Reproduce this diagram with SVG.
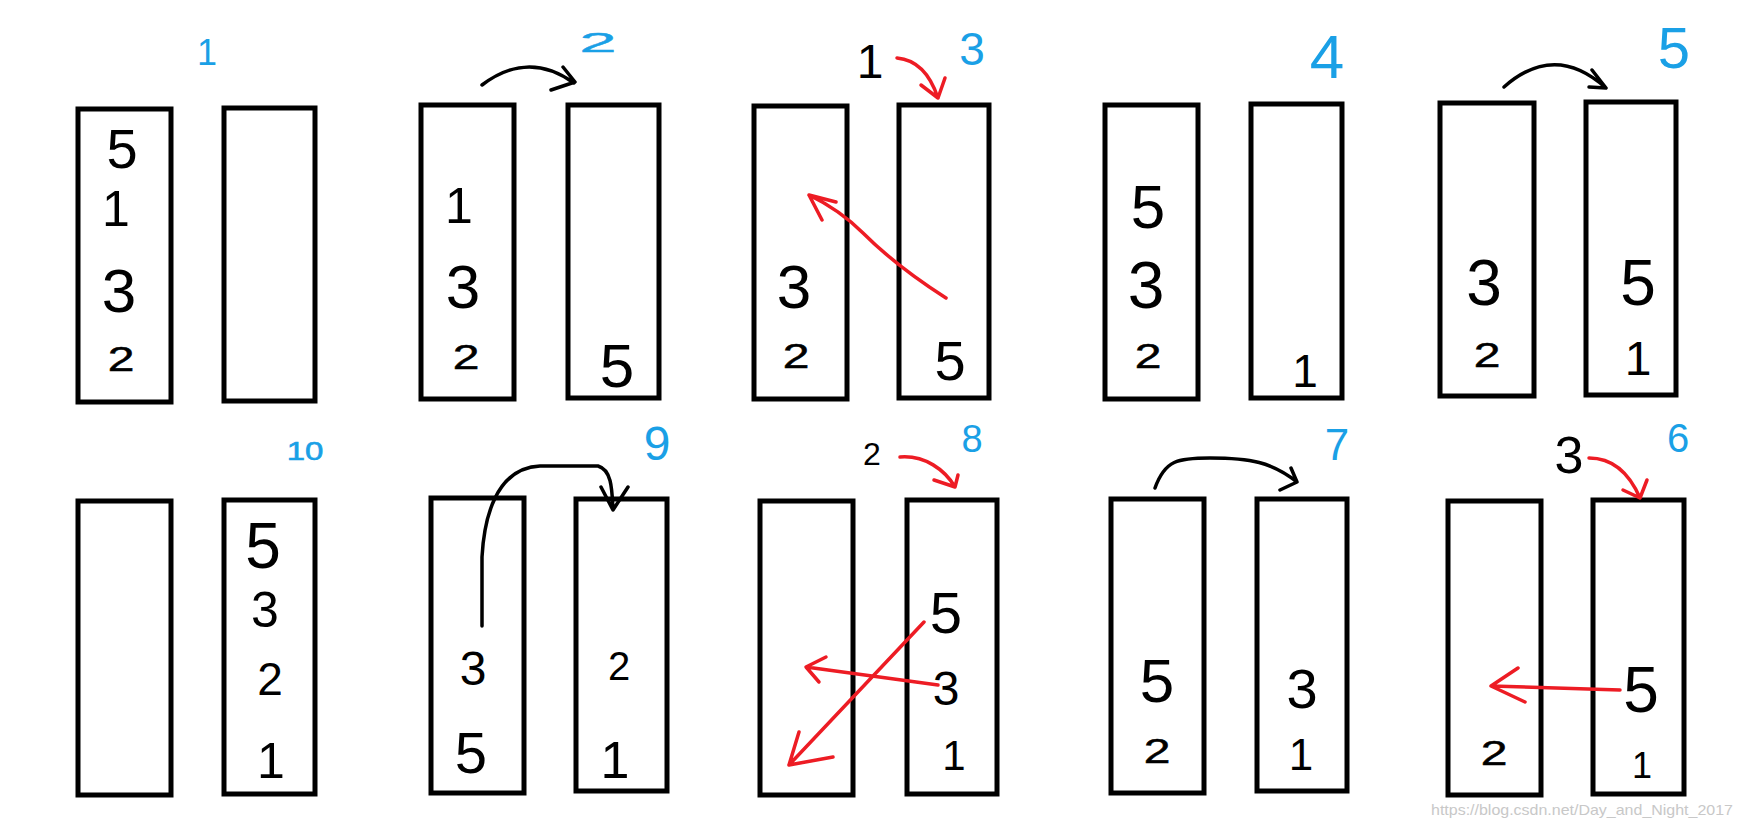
<svg xmlns="http://www.w3.org/2000/svg" width="1738" height="827" viewBox="0 0 1738 827">
<style>
.box{fill:none;stroke:#000;stroke-width:5}
text{font-family:"Liberation Sans","DejaVu Sans",sans-serif;text-anchor:middle}
.k{fill:#000}
.b{fill:#1aa0e6}
.t{font-size:48px;stroke:#000;stroke-width:0.7}
.tb{stroke:#1aa0e6;stroke-width:0.7}
.ak{fill:none;stroke:#000;stroke-width:3.5;stroke-linecap:round;stroke-linejoin:round}
.ar{fill:none;stroke:#ed1c24;stroke-width:3.5;stroke-linecap:round;stroke-linejoin:round}
.wm{fill:#c8c8c8;font-size:15px;text-anchor:start}
</style>
<rect width="1738" height="827" fill="#fff"/>
<g id="p1">
<rect class="box" x="78" y="109" width="93" height="293"/>
<rect class="box" x="224" y="108" width="91" height="293"/>
<text class="k" x="122" y="168" font-size="56">5</text>
<text class="k" x="116" y="226" font-size="50">1</text>
<text class="k" x="119" y="312" font-size="62">3</text>
<text class="k t" transform="translate(121,371) scale(1,0.72)">2</text>
<text class="b" x="207" y="65" font-size="36">1</text>
</g>
<g id="p2">
<rect class="box" x="421" y="105" width="93" height="294"/>
<rect class="box" x="568" y="105" width="91" height="293"/>
<text class="k" x="459" y="223" font-size="50">1</text>
<text class="k" x="463" y="308" font-size="62">3</text>
<text class="k t" transform="translate(466,369) scale(1,0.72)">2</text>
<text class="k" x="617" y="387" font-size="62">5</text>
<text class="b tb" font-size="56" transform="translate(598,52) scale(1.2,0.5)">2</text>
</g>
<g id="p3">
<rect class="box" x="754" y="106" width="93" height="293"/>
<rect class="box" x="899" y="105" width="90" height="293"/>
<text class="k" x="794" y="308" font-size="62">3</text>
<text class="k t" transform="translate(796,368) scale(1,0.72)">2</text>
<text class="k" x="950" y="380" font-size="56">5</text>
<text class="k" x="870" y="78" font-size="48">1</text>
<text class="b" x="972" y="65" font-size="46">3</text>
</g>
<g id="p4">
<rect class="box" x="1105" y="105" width="93" height="294"/>
<rect class="box" x="1251" y="104" width="91" height="294"/>
<text class="k" x="1148" y="228" font-size="62">5</text>
<text class="k" x="1146" y="308" font-size="66">3</text>
<text class="k t" transform="translate(1148,368) scale(1,0.72)">2</text>
<text class="k" x="1305" y="387" font-size="46">1</text>
<text class="b" x="1327" y="78" font-size="62">4</text>
</g>
<g id="p5">
<rect class="box" x="1440" y="103" width="94" height="293"/>
<rect class="box" x="1586" y="102" width="90" height="293"/>
<text class="k" x="1484" y="305" font-size="64">3</text>
<text class="k t" transform="translate(1487,367) scale(1,0.72)">2</text>
<text class="k" x="1638" y="305" font-size="64">5</text>
<text class="k" x="1638" y="375" font-size="48">1</text>
<text class="b" x="1674" y="68" font-size="58">5</text>
</g>
<g id="p10">
<rect class="box" x="78" y="501" width="93" height="294"/>
<rect class="box" x="224" y="500" width="91" height="294"/>
<text class="k" x="263" y="568" font-size="64">5</text>
<text class="k" x="265" y="627" font-size="50">3</text>
<text class="k" x="270" y="695" font-size="46">2</text>
<text class="k" x="271" y="778" font-size="50">1</text>
<text class="b tb" font-size="30" transform="translate(305,460) scale(1.1,0.85)">10</text>
</g>
<g id="p9">
<rect class="box" x="431" y="498" width="93" height="295"/>
<rect class="box" x="576" y="499" width="91" height="292"/>
<text class="k" x="473" y="685" font-size="48">3</text>
<text class="k" x="471" y="773" font-size="58">5</text>
<text class="k" x="619" y="680" font-size="40">2</text>
<text class="k" x="615" y="778" font-size="52">1</text>
<text class="b" x="657" y="460" font-size="48">9</text>
</g>
<g id="p8">
<rect class="box" x="760" y="501" width="93" height="294"/>
<rect class="box" x="907" y="500" width="90" height="294"/>
<text class="k" x="946" y="633" font-size="58">5</text>
<text class="k" x="946" y="705" font-size="48">3</text>
<text class="k" x="954" y="770" font-size="42">1</text>
<text class="k" x="872" y="465" font-size="32">2</text>
<text class="b" x="972" y="452" font-size="38">8</text>
</g>
<g id="p7">
<rect class="box" x="1111" y="499" width="93" height="294"/>
<rect class="box" x="1257" y="499" width="90" height="292"/>
<text class="k" x="1157" y="702" font-size="62">5</text>
<text class="k t" transform="translate(1157,763) scale(1,0.72)">2</text>
<text class="k" x="1302" y="708" font-size="56">3</text>
<text class="k" x="1301" y="770" font-size="44">1</text>
<text class="b" x="1337" y="460" font-size="44">7</text>
</g>
<g id="p6">
<rect class="box" x="1448" y="501" width="93" height="294"/>
<rect class="box" x="1593" y="500" width="91" height="294"/>
<text class="k t" transform="translate(1494,765) scale(1,0.75)">2</text>
<text class="k" x="1641" y="712" font-size="64">5</text>
<text class="k" x="1642" y="778" font-size="36">1</text>
<text class="k" x="1569" y="473" font-size="52">3</text>
<text class="b" x="1678" y="452" font-size="40">6</text>
</g>
<g id="connectors">
<path class="ak" d="M482,85 Q528,50 574,83 M563,67 L575,82 L551,90"/>
<path class="ak" d="M1504,87 Q1555,42 1606,88 M1592,70 L1606,88 L1589,87"/>
<path class="ak" d="M1155,488 C1165,460 1178,458 1210,458 C1250,458 1272,462 1297,482 M1291,468 L1297,482 L1280,490"/>
<path class="ak" d="M482,626 L482,557 C484,520 495,468 540,466 L598,466 C612,470 612,490 613,510 M601,487 L613,510 L628,487"/>
<path class="ar" d="M897,58 C920,60 932,80 938,98 M921,85 L938,98 L945,78"/>
<path class="ar" d="M946,298 C910,275 880,250 863,233 Q840,210 809,195 M836,202 L809,195 L822,220"/>
<path class="ar" d="M900,457 C925,455 945,470 955,487 M934,480 L955,487 L958,475"/>
<path class="ar" d="M938,685 L806,667 M826,657 L806,667 L819,682"/>
<path class="ar" d="M924,622 L789,765 M799,732 L789,765 L833,757"/>
<path class="ar" d="M1589,458 C1615,458 1630,475 1640,498 M1623,490 L1640,498 L1647,480"/>
<path class="ar" d="M1620,690 L1491,686 M1518,668 L1491,686 L1525,702"/>
</g>
<text class="wm" x="1431" y="815" textLength="302" lengthAdjust="spacingAndGlyphs">https://blog.csdn.net/Day_and_Night_2017</text>
</svg>
